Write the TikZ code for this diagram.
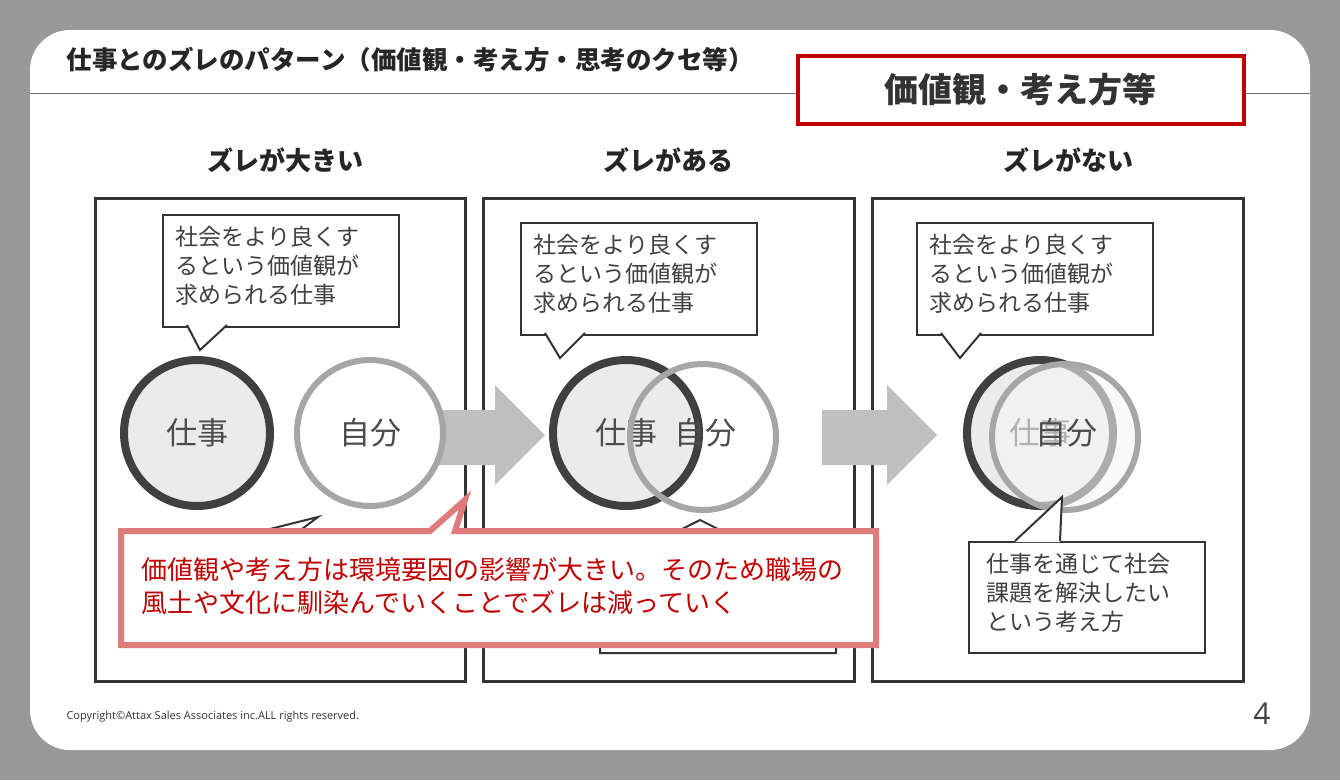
\documentclass[tikz,border=0pt]{standalone}
\usepackage{fontspec}
\setmainfont{Noto Sans CJK JP}
\newfontfamily\latinfont{Open Sans}
\definecolor{bggray}{HTML}{999999}
\definecolor{darkring}{HTML}{404040}
\definecolor{lightring}{HTML}{A6A6A6}
\definecolor{frameline}{HTML}{333333}
\definecolor{accentred}{HTML}{C00000}
\definecolor{softred}{HTML}{E07B7B}
\tikzset{
  panel/.style={draw=frameline,line width=3pt},
  header/.style={font=\bfseries\fontsize{26}{30}\selectfont,text=black!85},
  bubble/.style={draw=frameline,line width=2pt,fill=white,inner sep=0pt,anchor=north west},
  bubbletext/.style={anchor=north west,align=left,text=black!75,font=\fontsize{23}{29}\selectfont},
  ringdark/.style={circle,draw=darkring,line width=8pt,minimum size=146pt,
    font=\fontsize{31}{34}\selectfont,text=black!70},
  ringlight/.style={circle,draw=lightring,line width=6pt,minimum size=146pt,
    font=\fontsize{31}{34}\selectfont,text=black!70},
  ringtext/.style={font=\fontsize{31}{34}\selectfont,text=black!70},
  bigarrow/.style={fill=black!25}
}
\begin{document}
\begin{tikzpicture}[x=1pt,y=-1pt]
\fill[bggray] (0,0) rectangle (1340,780);
\fill[white,rounded corners=40pt] (30,30) rectangle (1310,750);
\useasboundingbox (0,0) rectangle (1340,780);
% title
\node[anchor=west,font=\bfseries\fontsize{25.5}{28}\selectfont,text=black!85] (title) at (63,60)
  {仕事とのズレのパターン（価値観・考え方・思考のクセ等）};
\draw[black!55,line width=1pt] (30,93) -- (1310,93);
\node[draw=accentred,line width=4pt,fill=white,minimum width=446pt,minimum height=68pt,
  font=\bfseries\fontsize{34}{38}\selectfont,text=black!80] (tag) at (1020.5,89.5) {価値観・考え方等};
% headers
\node[header] (h1) at (285,160) {ズレが大きい};
\node[header] (h2) at (668,160) {ズレがある};
\node[header] (h3) at (1068,160) {ズレがない};
% panels
\draw[panel] (95,198) rectangle (465,681);
\draw[panel] (483,198) rectangle (854,681);
\draw[panel] (872,198) rectangle (1243,681);
% top bubbles
\foreach \n/\x/\y/\tx in {t1/162/214/200, t2/520/222/560, t3/916/222/960}{
  \node[bubble,minimum width=236pt,minimum height=112pt] (\n) at (\x,\y) {};
  \node[bubbletext] at (\x+10,\y+9) {社会をより良くす\\るという価値観が\\求められる仕事};
  \fill[white] (\x+25,\y+110) -- (\tx,\y+136) -- (\x+65,\y+110) -- cycle;
  \draw[frameline,line width=2pt] (\x+25,\y+111) -- (\tx,\y+136) -- (\x+65,\y+111);
}
% arrows
\foreach \n/\x in {a1/430, a2/822}
  \fill[bigarrow] (\x,410) coordinate (\n) -- (\x+65,410) -- (\x+65,385) -- (\x+115,435)
    -- (\x+65,485) -- (\x+65,465) -- (\x,465) -- cycle;
% rings
\node[ringdark,fill=black!8] (w1) at (197,433) {仕事};
\node[ringlight,fill=white] (s1) at (370,433) {自分};
\node[ringdark,fill=black!8] (w2) at (626,433) {仕事};
\node[ringlight] (s2) at (703,437) {};
\node[ringtext] (s2t) at (705,433) {自分};
\node[ringdark,fill=black!8] (w3) at (1040,433) {仕事};
\node[ringlight,fill=black!4,fill opacity=0.6] (s3) at (1065,437) {};
\node[ringtext] (s3t) at (1066,433) {自分};
% bottom bubbles
\draw[frameline,line width=2pt,fill=white] (212,532) -- (258,532) -- (318,517) -- (298,532)
  -- (448,532) -- (448,645) -- (212,645) -- cycle;
\draw[frameline,line width=2pt,fill=white] (600,530) -- (680,530) -- (700,520) -- (720,530)
  -- (836,530) -- (836,653) -- (600,653) -- cycle;
\node[bubble,minimum width=236pt,minimum height=111pt] (b3) at (968,541) {};
\fill[white] (1015,542) -- (1062,497) -- (1060,542) -- cycle;
\draw[frameline,line width=2pt] (1015,541) -- (1062,497) -- (1060,541);
\node[bubbletext] (b3t) at (983,550) {仕事を通じて社会\\課題を解決したい\\という考え方};
% red note
\draw[softred,line width=6pt,fill=white,line join=miter] (121,531) -- (430,531) -- (465,500)
  -- (455,531) -- (876,531) -- (876,645) -- (121,645) -- cycle;
\node[anchor=north west,align=left,text=accentred,font=\fontsize{26}{33}\selectfont] (note)
  at (138,554) {価値観や考え方は環境要因の影響が大きい。そのため職場の\\風土や文化に馴染んでいくことでズレは減っていく};
% footer
\node[anchor=west,font=\latinfont\fontsize{11}{13}\selectfont,text=black!80] (copy) at (63,717)
  {Copyright©Attax Sales Associates inc.ALL rights reserved.};
\node[font=\latinfont\fontsize{30}{32}\selectfont,text=black!75] (page) at (1262,714) {4};
\end{tikzpicture}
\end{document}
